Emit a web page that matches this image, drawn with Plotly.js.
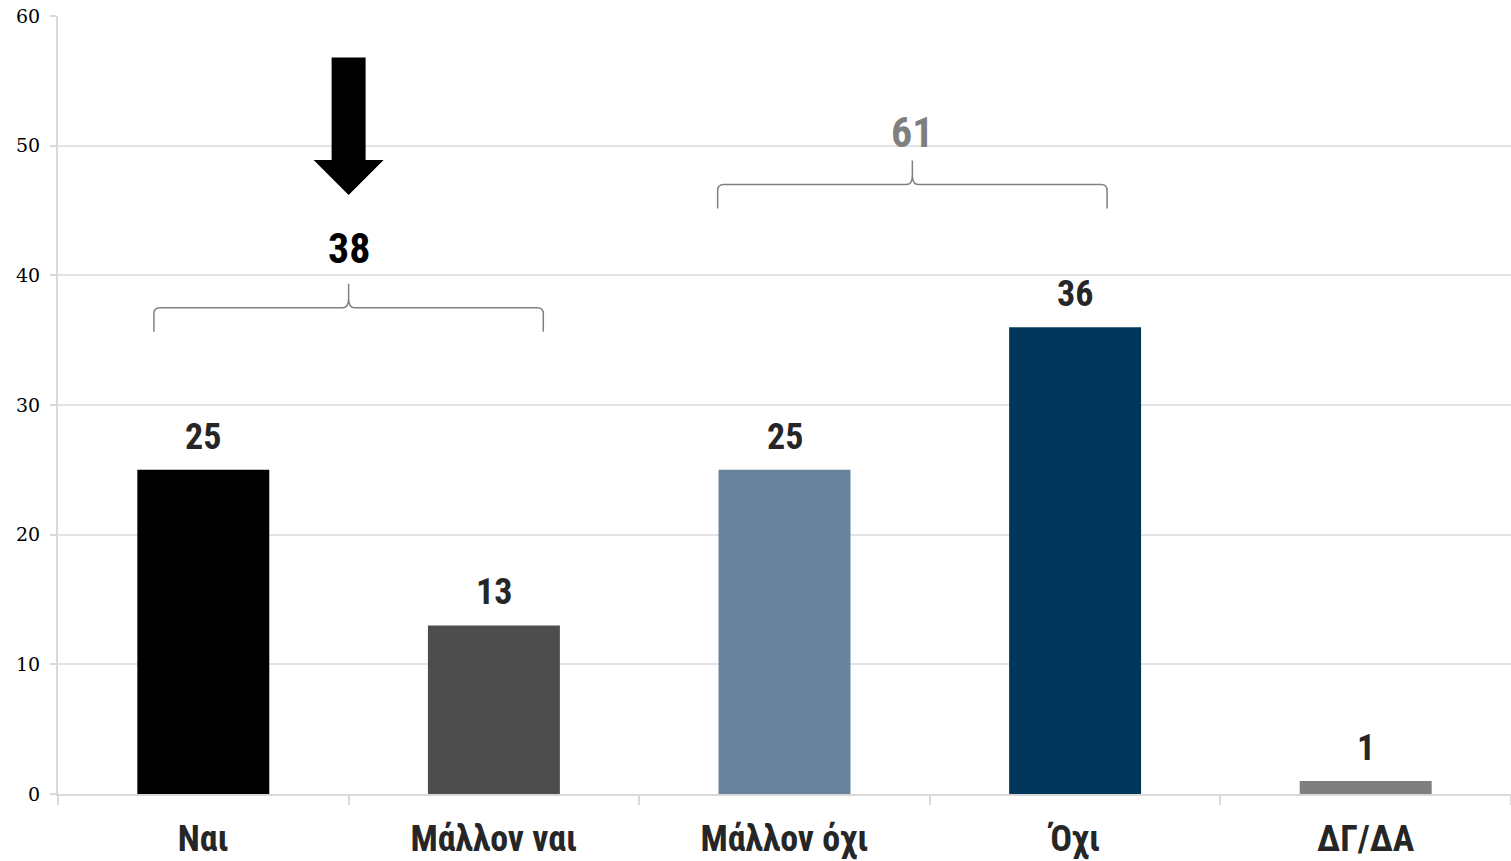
<!DOCTYPE html>
<html>
<head>
<meta charset="utf-8">
<script src="https://cdn.plot.ly/plotly-3.0.1.min.js"></script>
<style>
    html, body { margin: 0; padding: 0; background: #fff; }
    #chart { width: 1511px; height: 861px; }
</style>
</head>
<body>
<div id="chart"></div>
<script>
// answers and their share (%)
var categories = ["Ναι", "Μάλλον ναι", "Μάλλον όχι", "Όχι", "ΔΓ/ΔΑ"];
var values = [25, 13, 25, 36, 1];
var barColors = ["#000000", "#4d4d4d", "#67849c", "#003659", "#7f7f7f"];

// grouped totals shown over the braces
var groupTotals = [38, 61];
var groupColors = ["#000000", "#7f7f7f"];

var yTicks = [0, 10, 20, 30, 40, 50, 60];

var labelFont = "Liberation Sans Narrow, Arial Narrow, Roboto Condensed, Liberation Sans, sans-serif";

var W = 1511, H = 861;
var margin = { l: 58, r: 0, t: 16, b: 67 };
var plotW = W - margin.l - margin.r;
var plotH = H - margin.t - margin.b;
var yMax = 60;

// helpers: category index -> paper x, pixel offsets -> paper / data units
function catX(idx) { return (idx + 0.5) / categories.length; }
function pxX(px) { return px / plotW; }
function pxY(px) { return px * yMax / plotH; }

// brace geometry (per group, in category units / data units)
var braceLeft = [-0.17, 1.77];
var braceRight = [1.17, 3.11];
var braceY = [37.5, 47.0];
var totalY = [42.1, 51.0];

function bracePath(g) {
    let x0 = catX(braceLeft[g]);
    let x1 = catX(braceRight[g]);
    let xm = (x0 + x1) / 2;
    let y = braceY[g];
    let yEnd = y - pxY(24);
    let yTip = y + pxY(24);
    let r = pxX(6), ry = pxY(6), tipR = pxY(9);
    return "M " + x0 + "," + yEnd +
        " L " + x0 + "," + (y - ry) +
        " Q " + x0 + "," + y + " " + (x0 + r) + "," + y +
        " L " + (xm - r) + "," + y +
        " Q " + xm + "," + y + " " + xm + "," + (y + tipR) +
        " L " + xm + "," + yTip +
        " L " + xm + "," + (y + tipR) +
        " Q " + xm + "," + y + " " + (xm + r) + "," + y +
        " L " + (x1 - r) + "," + y +
        " Q " + x1 + "," + y + " " + x1 + "," + (y - ry) +
        " L " + x1 + "," + yEnd;
}

function arrowPath() {
    let xc = catX(0.5);
    let sw = pxX(17), hw = pxX(35);
    let yTop = 56.8, yBase = 48.9, yTip = 46.2;
    return "M " + (xc - sw) + "," + yTop +
        " L " + (xc + sw) + "," + yTop +
        " L " + (xc + sw) + "," + yBase +
        " L " + (xc + hw) + "," + yBase +
        " L " + xc + "," + yTip +
        " L " + (xc - hw) + "," + yBase +
        " L " + (xc - sw) + "," + yBase + " Z";
}

var bars = {
    type: "bar",
    x: categories,
    y: values,
    marker: { color: barColors },
    hoverinfo: "x+y",
};

var annotations = [];
for (let i = 0; i < categories.length; i++) {
    annotations.push({
        x: categories[i], y: values[i],
        xref: "x", yref: "y",
        text: String(values[i]),
        showarrow: false,
        xanchor: "center",
        yanchor: "bottom",
        yshift: 10,
        font: { family: labelFont, size: 36, color: "#262626", weight: 700 },
    });
}
for (let g = 0; g < groupTotals.length; g++) {
    annotations.push({
        x: catX((braceLeft[g] + braceRight[g]) / 2), y: totalY[g],
        xref: "paper", yref: "y",
        text: String(groupTotals[g]),
        showarrow: false,
        xanchor: "center",
        yanchor: "middle",
        font: { family: labelFont, size: 42, color: groupColors[g], weight: 700 },
    });
}

var shapes = [];
for (let g = 0; g < groupTotals.length; g++) {
    shapes.push({
        type: "path", xref: "paper", yref: "y",
        path: bracePath(g),
        line: { color: "#808080", width: 1.5 },
    });
}
shapes.push({
    type: "path", xref: "paper", yref: "y",
    path: arrowPath(),
    fillcolor: "#000000",
    line: { width: 0 },
});

var layout = {
    width: W,
    height: H,
    margin: margin,
    paper_bgcolor: "#ffffff",
    plot_bgcolor: "#ffffff",
    showlegend: false,
    bargap: 0.546,
    xaxis: {
        type: "category",
        tickson: "boundaries",
        ticks: "outside",
        ticklen: 9,
        tickwidth: 2,
        tickcolor: "#d9d9d9",
        showline: true,
        linecolor: "#d9d9d9",
        linewidth: 2,
        showgrid: false,
        tickfont: { family: labelFont, size: 36, color: "#262626", weight: 700 },
        ticklabelstandoff: 12,
    },
    yaxis: {
        range: [0, yMax],
        tickvals: yTicks,
        ticks: "outside",
        ticklen: 6,
        tickwidth: 2,
        tickcolor: "#d9d9d9",
        showline: true,
        linecolor: "#d9d9d9",
        linewidth: 2,
        showgrid: true,
        gridcolor: "#e3e3e3",
        gridwidth: 2,
        zeroline: false,
        tickfont: { family: "DejaVu Serif, serif", size: 19, color: "#000000" },
        ticklabelstandoff: 6,
    },
    annotations: annotations,
    shapes: shapes,
};

Plotly.newPlot("chart", [bars], layout, { displayModeBar: false, staticPlot: true });
</script>
</body>
</html>
